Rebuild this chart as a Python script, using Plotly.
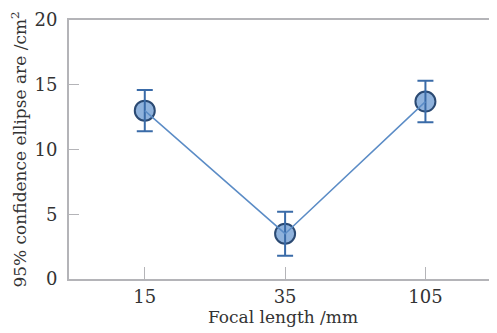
import plotly.graph_objects as go

categories = ["15", "35", "105"]
area = [13.0, 3.5, 13.7]
err = [1.6, 1.7, 1.6]
y_ticks = [0, 5, 10, 15, 20]

FONT = "DejaVu Serif"
AX = "#b4b4b8"

fig = go.Figure()
# markers
fig.add_trace(go.Scatter(
    x=categories, y=area, mode="markers",
    marker=dict(size=20, color="#8fb2dc", line=dict(color="#2b4a73", width=2)),
    showlegend=False, hoverinfo="skip"))
# connecting line with error bars on top
fig.add_trace(go.Scatter(
    x=categories, y=area, mode="lines",
    line=dict(color="#5b8cc6", width=1.5),
    error_y=dict(type="data", array=err, visible=True, color="#3a6ba8",
                 thickness=2, width=8),
    showlegend=False))

# the page body adds an 8px offset, so the figure is drawn 8px smaller
fig.update_layout(
    width=489, height=325,
    margin=dict(l=61, r=0, t=12, b=54, autoexpand=False),
    paper_bgcolor="white", plot_bgcolor="white",
    font=dict(family=FONT, color="#333333", size=17),
    xaxis=dict(
        type="category", range=[-0.54, 2.51],
        showline=True, linecolor=AX, linewidth=2, mirror=True,
        ticks="inside", ticklen=12, tickcolor=AX, tickwidth=1,
        showgrid=False, zeroline=False,
        tickfont=dict(size=18, family=FONT, color="#333333"),
        title=dict(text="Focal length /mm", font=dict(size=17, family=FONT), standoff=6),
    ),
    yaxis=dict(
        range=[0, 20], tickvals=y_ticks,
        showline=True, linecolor=AX, linewidth=2,
        ticks="inside", ticklen=10, tickcolor=AX, tickwidth=1,
        showgrid=False, zeroline=False,
        tickfont=dict(size=18, family=FONT, color="#333333"),
        ticklabelstandoff=6,
        title=dict(text="95% confidence ellipse are /cm<sup>2</sup>",
                   font=dict(size=17, family=FONT), standoff=6),
    ),
)

fig.write_html("out.html")
